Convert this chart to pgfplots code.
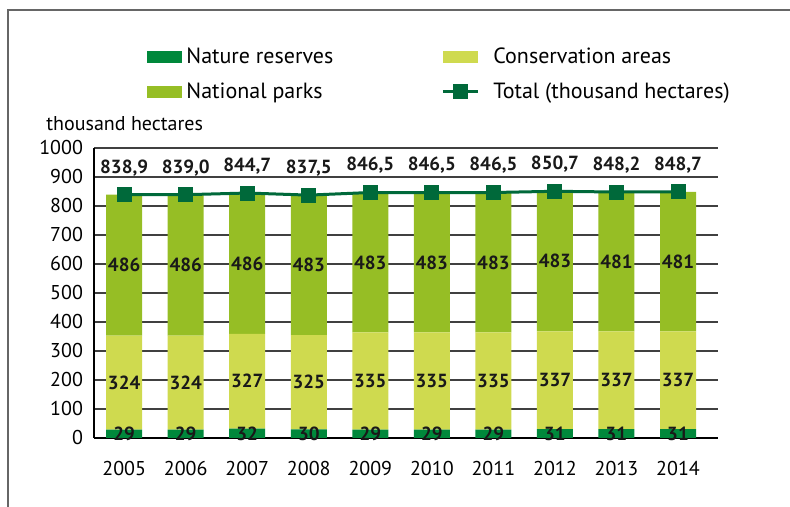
\documentclass[border=0pt]{standalone}
\usepackage{pgfplots}
\usepackage{pgfplotstable}
\usepackage{fontspec}
\setmainfont{PT Sans}
\pgfplotsset{compat=1.18}
\pgfkeys{/pgf/number format/assume math mode=true}

\definecolor{reserves}{HTML}{00883B}
\definecolor{conserv}{HTML}{CFDA4F}
\definecolor{parks}{HTML}{96BE25}
\definecolor{totalc}{HTML}{00693A}

% year index, nature reserves, conservation areas, national parks, total
\pgfplotstableread{
x nr  ca  np  total
0 29  324 486 838.9
1 29  324 486 839.0
2 32  327 486 844.7
3 30  325 483 837.5
4 29  335 483 846.5
5 29  335 483 846.5
6 29  335 483 846.5
7 31  337 483 850.7
8 31  337 481 848.2
9 31  337 481 848.7
}\areas

\pgfplotsset{
  common/.style={
    scale only axis, width=312pt, height=145pt,
    at={(47pt,34.5pt)}, anchor=south west,
    xmin=-0.49, xmax=9.65, ymin=0, ymax=1000,
  },
  swatch/.style={legend image code/.code={
    \fill[##1] (0pt,-3pt) rectangle (17.5pt,3pt);}},
  totalimg/.style={legend image code/.code={
    \draw[##1, mark=none] (0pt,0pt) -- (17.5pt,0pt);
    \fill[totalc] (5.75pt,-3pt) rectangle (11.75pt,3pt);}},
}

\begin{document}
\fontsize{10}{12}\selectfont
\begin{tikzpicture}
\useasboundingbox (0,0) rectangle (395pt,253.5pt);
\draw[black!60, line width=0.8pt] (4pt,0) -- (4pt,248.5pt) -- (395pt,248.5pt);

\begin{axis}[common,
    ybar stacked, bar width=18pt,
    axis x line*=bottom, axis y line*=left,
    axis line style={black, line width=0.8pt},
    ytick={0,100,...,1000}, major tick length=0pt,
    yticklabel style={/pgf/number format/1000 sep={}, xshift=-2pt},
    xtick=data,
    xticklabels={2005,2006,2007,2008,2009,2010,2011,2012,2013,2014},
    xticklabel style={yshift=-8pt},
    ymajorgrids, grid style={black!75, line width=0.8pt},
    legend columns=2,
    legend cell align=left,
    legend style={draw=none, fill=none, at={(rel axis cs:0.085,1.36)},
      anchor=north west, row sep=4pt, inner sep=0pt,
      font=\fontsize{11}{13}\selectfont,
      /tikz/column 2/.style={column sep=52pt},
      /tikz/column 3/.style={column sep=5pt}},
  ]
  \addplot[fill=reserves, draw=none, swatch] table[x=x, y=nr] {\areas};
  \addlegendentry{Nature reserves}
  \addplot[fill=conserv, draw=none, swatch] table[x=x, y=ca] {\areas};
  \addlegendentry{Conservation areas}
  \addplot[fill=parks, draw=none, swatch] table[x=x, y=np] {\areas};
  \addlegendentry{National parks}
  \addlegendimage{totalc, line width=1.5pt, totalimg}
  \addlegendentry{Total (thousand hectares)}
\end{axis}

\begin{axis}[common, hide axis,
    nodes near coords, point meta=explicit,
    every node near coord/.append style={font=\bfseries\fontsize{9.5}{11}\selectfont,
      text=black!90, anchor=center},
  ]
  % labels centred in each segment
  \addplot[draw=none, mark=none] table[x=x, y expr=\thisrow{nr}/2, meta=nr] {\areas};
  \addplot[draw=none, mark=none] table[x=x, y expr=\thisrow{nr}+\thisrow{ca}/2, meta=ca] {\areas};
  \addplot[draw=none, mark=none] table[x=x, y expr=\thisrow{nr}+\thisrow{ca}+\thisrow{np}/2, meta=np] {\areas};
  % total line
  \addplot[totalc, line width=1.5pt, mark=square*, mark size=3pt,
    nodes near coords={\pgfmathprintnumber[fixed, fixed zerofill, precision=1, use comma]{\pgfplotspointmeta}},
    every node near coord/.append style={yshift=13.5pt}]
    table[x=x, y=total, meta=total] {\areas};
\end{axis}
\node[anchor=base west, inner sep=0pt] at (23pt,188pt) {thousand hectares};
\end{tikzpicture}
\end{document}
